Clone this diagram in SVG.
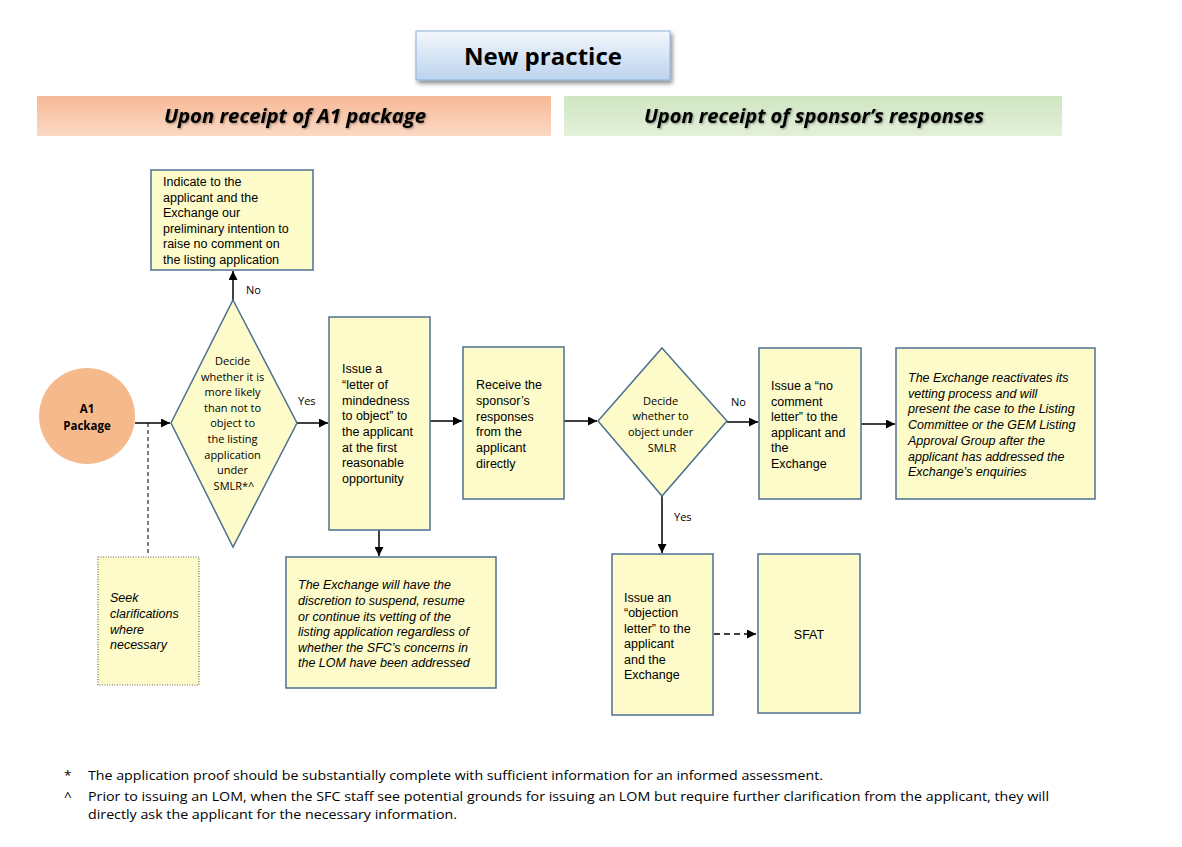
<svg xmlns="http://www.w3.org/2000/svg" width="1182" height="847" viewBox="0 0 1182 847">
<defs>
<linearGradient id="gTitle" x1="0" y1="0" x2="0" y2="1"><stop offset="0" stop-color="#f3f7fc"/><stop offset="1" stop-color="#bcd3ee"/></linearGradient>
<linearGradient id="gOrange" x1="0" y1="0" x2="0" y2="1"><stop offset="0" stop-color="#f7b996"/><stop offset="1" stop-color="#fbd9c4"/></linearGradient>
<linearGradient id="gGreen" x1="0" y1="0" x2="0" y2="1"><stop offset="0" stop-color="#cfe6c2"/><stop offset="1" stop-color="#e3f0da"/></linearGradient>
<filter id="shadow" x="-10%" y="-20%" width="130%" height="160%"><feDropShadow dx="2" dy="3" stdDeviation="2" flood-color="#000" flood-opacity="0.45"/></filter>
<filter id="tshadow" x="-5%" y="-20%" width="110%" height="150%"><feDropShadow dx="1" dy="1" stdDeviation="0.8" flood-color="#000" flood-opacity="0.4"/></filter>
<marker id="arr" viewBox="0 0 10 10" refX="10" refY="5" markerWidth="6" markerHeight="6" orient="auto"><path d="M0,0 L10,5 L0,10 z" fill="#000"/></marker>
</defs>
<style>
.box{fill:#fdfbc9;stroke:#4d6f92;stroke-width:1.5}
.t{font-family:"Liberation Sans",Arial,sans-serif;font-size:12.5px;fill:#000}
.ti{font-family:"Liberation Sans",Arial,sans-serif;font-size:12.5px;font-style:italic;fill:#000}
.c{font-family:"Open Sans","Noto Sans",sans-serif;font-size:11px;fill:#000}
.lbl{font-family:"Open Sans","Noto Sans",sans-serif;font-size:11px;fill:#000}
.ln{stroke:#000;stroke-width:1.5;fill:none}
.hdr{font-family:"Open Sans","Noto Sans",sans-serif;font-size:20px;font-weight:bold;font-style:italic;fill:#000}
.fn{font-family:"Open Sans","Noto Sans",sans-serif;font-size:13.5px;fill:#000}
</style>

<g id="title">
<rect x="416" y="31" width="254" height="49" fill="url(#gTitle)" stroke="#8fb0d8" stroke-width="1" filter="url(#shadow)"/>
<text x="543" y="65" text-anchor="middle" font-family="Open Sans, Noto Sans, sans-serif" font-size="24" font-weight="bold" textLength="158" lengthAdjust="spacingAndGlyphs">New practice</text>
</g>
<g id="header-left">
<rect x="37" y="96" width="514" height="40" fill="url(#gOrange)"/>
<text class="hdr" x="295" y="123" text-anchor="middle" filter="url(#tshadow)" textLength="262" lengthAdjust="spacingAndGlyphs">Upon receipt of A1 package</text>
</g>
<g id="header-right">
<rect x="564" y="96" width="498" height="40" fill="url(#gGreen)"/>
<text class="hdr" x="814" y="123" text-anchor="middle" filter="url(#tshadow)" textLength="340" lengthAdjust="spacingAndGlyphs">Upon receipt of sponsor’s responses</text>
</g>

<g id="connectors">
<line class="ln" x1="135" y1="423" x2="170" y2="423" marker-end="url(#arr)"/>
<line x1="148" y1="423" x2="148" y2="556" stroke="#000" stroke-width="1" stroke-dasharray="4,3"/>
<line class="ln" x1="233" y1="300" x2="233" y2="271" marker-end="url(#arr)"/>
<line class="ln" x1="297" y1="423" x2="328" y2="423" marker-end="url(#arr)"/>
<line class="ln" x1="379" y1="530" x2="379" y2="556" marker-end="url(#arr)"/>
<line class="ln" x1="430" y1="421" x2="462" y2="421" marker-end="url(#arr)"/>
<line class="ln" x1="564" y1="421" x2="597" y2="421" marker-end="url(#arr)"/>
<line class="ln" x1="727" y1="422" x2="758" y2="422" marker-end="url(#arr)"/>
<line class="ln" x1="861" y1="424" x2="895" y2="424" marker-end="url(#arr)"/>
<line class="ln" x1="662" y1="496" x2="662" y2="553" marker-end="url(#arr)"/>
<line class="ln" x1="714" y1="634" x2="756" y2="634" stroke-dasharray="6,4" marker-end="url(#arr)"/>
<text class="lbl" x="246" y="294">No</text>
<text class="lbl" x="298" y="405">Yes</text>
<text class="lbl" x="731" y="406">No</text>
<text class="lbl" x="674" y="521">Yes</text>
</g>

<g id="a1-package">
<circle cx="87" cy="416" r="48" fill="#f6b98c"/>
<text x="87" y="413" text-anchor="middle" font-family="Open Sans, Noto Sans, sans-serif" font-size="11.5" font-weight="bold">A1</text>
<text x="87" y="430" text-anchor="middle" font-family="Open Sans, Noto Sans, sans-serif" font-size="11.5" font-weight="bold">Package</text>
</g>

<g id="decision-1">
<polygon class="box" points="233,300 297,423 233,547 171,423"/>
<text class="c" text-anchor="middle">
<tspan x="234" y="365">Decide</tspan>
<tspan x="234" y="381">whether it is</tspan>
<tspan x="234" y="396">more likely</tspan>
<tspan x="234" y="412">than not to</tspan>
<tspan x="234" y="427">object to</tspan>
<tspan x="234" y="443">the listing</tspan>
<tspan x="234" y="459">application</tspan>
<tspan x="234" y="474">under</tspan>
<tspan x="234" y="490">SMLR*^</tspan>
</text>
</g>

<g id="no-comment-intention">
<rect class="box" x="151" y="170" width="162" height="100"/>
<text class="t" font-size="12">
<tspan x="163" y="186">Indicate to the</tspan>
<tspan x="163" y="202">applicant and the</tspan>
<tspan x="163" y="217">Exchange our</tspan>
<tspan x="163" y="233">preliminary intention to</tspan>
<tspan x="163" y="248">raise no comment on</tspan>
<tspan x="163" y="264">the listing application</tspan>
</text>
</g>

<g id="seek-clarifications">
<rect x="98" y="557" width="101" height="128" fill="#fdfbc9" stroke="#666" stroke-width="1.2" stroke-dasharray="1,1.5"/>
<text class="ti">
<tspan x="110" y="602">Seek</tspan>
<tspan x="110" y="618">clarifications</tspan>
<tspan x="110" y="634">where</tspan>
<tspan x="110" y="649">necessary</tspan>
</text>
</g>

<g id="issue-lom">
<rect class="box" x="329" y="317" width="101" height="213"/>
<text class="t" font-size="13">
<tspan x="342" y="373">Issue a</tspan>
<tspan x="342" y="389">“letter of</tspan>
<tspan x="342" y="405">mindedness</tspan>
<tspan x="342" y="420">to object” to</tspan>
<tspan x="342" y="436">the applicant</tspan>
<tspan x="342" y="452">at the first</tspan>
<tspan x="342" y="467">reasonable</tspan>
<tspan x="342" y="483">opportunity</tspan>
</text>
</g>

<g id="exchange-discretion">
<rect class="box" x="286" y="557" width="210" height="131"/>
<text class="ti">
<tspan x="298" y="589">The Exchange will have the</tspan>
<tspan x="298" y="605">discretion to suspend, resume</tspan>
<tspan x="298" y="621">or continue its vetting of the</tspan>
<tspan x="298" y="636">listing application regardless of</tspan>
<tspan x="298" y="652">whether the SFC’s concerns in</tspan>
<tspan x="298" y="667">the LOM have been addressed</tspan>
</text>
</g>

<g id="receive-responses">
<rect class="box" x="463" y="347" width="101" height="152"/>
<text class="t" font-size="13">
<tspan x="476" y="389">Receive the</tspan>
<tspan x="476" y="405">sponsor’s</tspan>
<tspan x="476" y="421">responses</tspan>
<tspan x="476" y="436">from the</tspan>
<tspan x="476" y="452">applicant</tspan>
<tspan x="476" y="468">directly</tspan>
</text>
</g>

<g id="decision-2">
<polygon class="box" points="662,348 727,421 662,496 598,421"/>
<text class="c" text-anchor="middle">
<tspan x="662" y="405">Decide</tspan>
<tspan x="662" y="420">whether to</tspan>
<tspan x="662" y="436">object under</tspan>
<tspan x="662" y="452">SMLR</tspan>
</text>
</g>

<g id="no-comment-letter">
<rect class="box" x="759" y="348" width="102" height="151"/>
<text class="t" font-size="13">
<tspan x="771" y="390">Issue a “no</tspan>
<tspan x="771" y="406">comment</tspan>
<tspan x="771" y="421">letter”  to the</tspan>
<tspan x="771" y="437">applicant and</tspan>
<tspan x="771" y="452">the</tspan>
<tspan x="771" y="468">Exchange</tspan>
</text>
</g>

<g id="exchange-reactivates">
<rect class="box" x="896" y="348" width="199" height="151"/>
<text class="ti">
<tspan x="908" y="382">The Exchange reactivates its</tspan>
<tspan x="908" y="398">vetting process and will</tspan>
<tspan x="908" y="413">present the case to the Listing</tspan>
<tspan x="908" y="429">Committee or the GEM Listing</tspan>
<tspan x="908" y="445">Approval Group after the</tspan>
<tspan x="908" y="461">applicant has addressed the</tspan>
<tspan x="908" y="476">Exchange’s enquiries</tspan>
</text>
</g>

<g id="objection-letter">
<rect class="box" x="612" y="554" width="101" height="161"/>
<text class="t" font-size="13">
<tspan x="624" y="602">Issue an</tspan>
<tspan x="624" y="617">“objection</tspan>
<tspan x="624" y="633">letter” to the</tspan>
<tspan x="624" y="648">applicant</tspan>
<tspan x="624" y="664">and the</tspan>
<tspan x="624" y="679">Exchange</tspan>
</text>
</g>

<g id="sfat">
<rect class="box" x="758" y="554" width="102" height="159"/>
<text class="t" font-size="13" x="809" y="639" text-anchor="middle">SFAT</text>
</g>

<g id="footnotes">
<text class="fn" x="64" y="780">*</text>
<text class="fn" x="88" y="780" textLength="735" lengthAdjust="spacingAndGlyphs">The application proof should be substantially complete with sufficient information for an informed assessment.</text>
<text class="fn" x="64" y="801">^</text>
<text class="fn" x="88" y="801" textLength="961" lengthAdjust="spacingAndGlyphs">Prior to issuing an LOM, when the SFC staff see potential grounds for issuing an LOM but require further clarification from the applicant, they will</text>
<text class="fn" x="88" y="819" textLength="369" lengthAdjust="spacingAndGlyphs">directly ask the applicant for the necessary information.</text>
</g>
</svg>
